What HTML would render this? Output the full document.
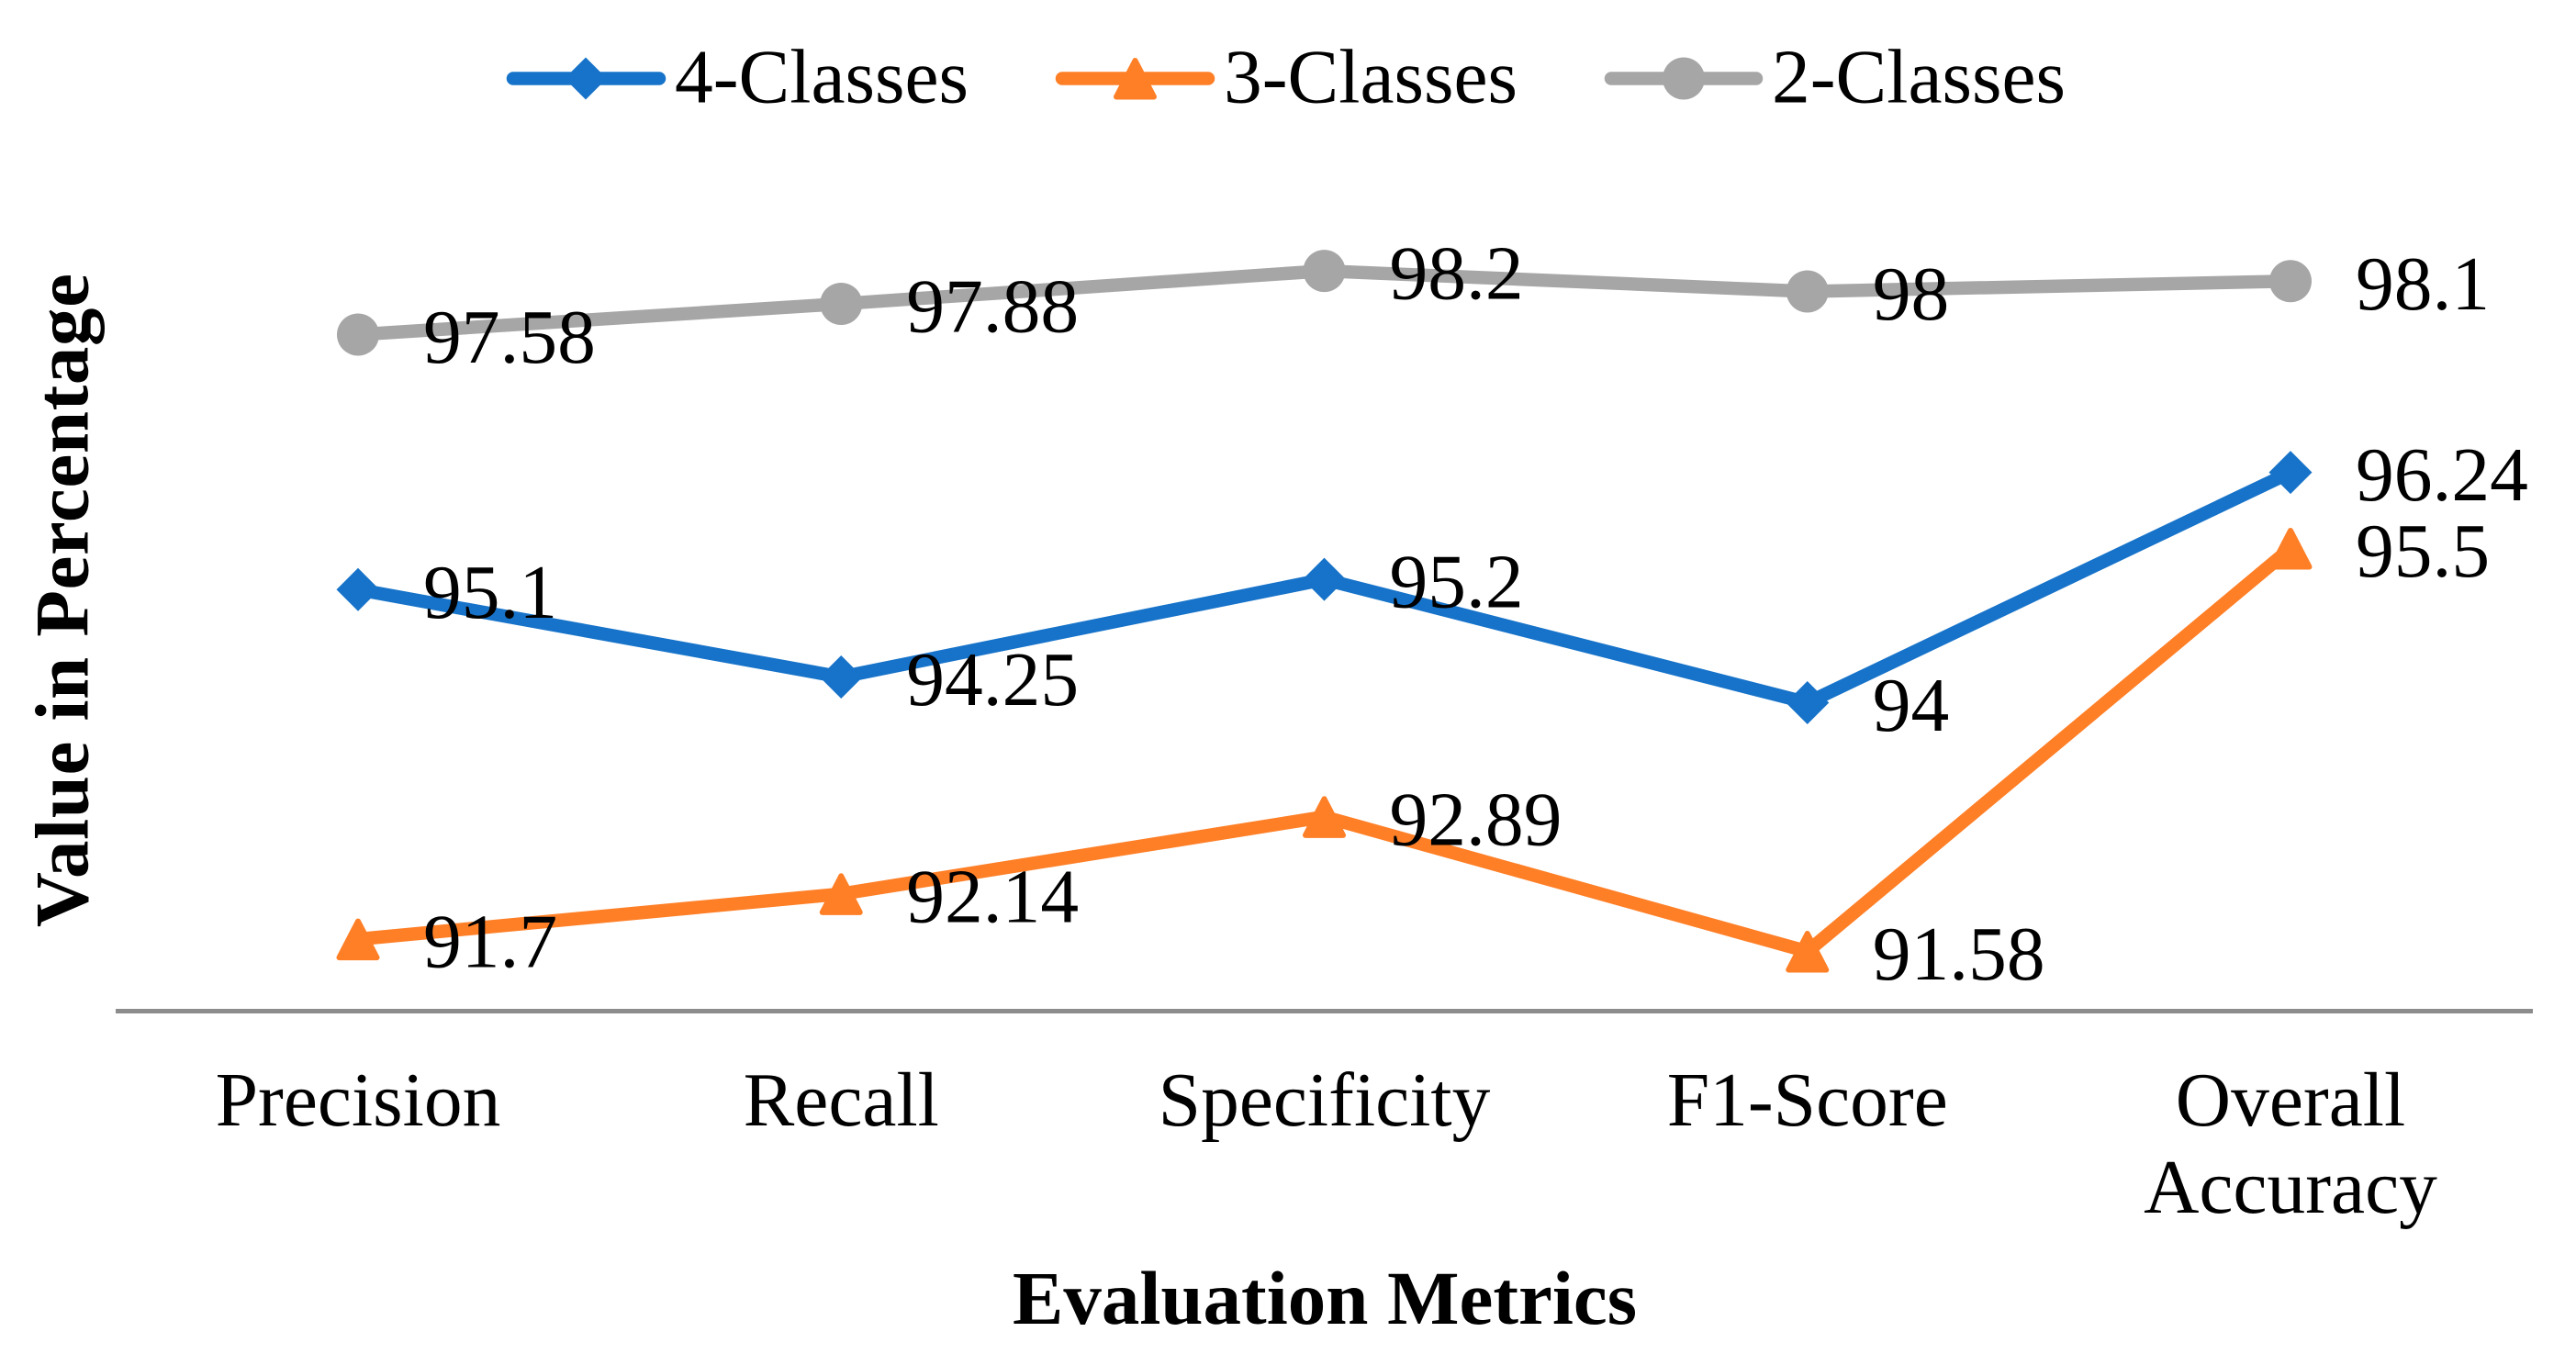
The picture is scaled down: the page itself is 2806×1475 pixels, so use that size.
<!DOCTYPE html>
<html>
<head>
<meta charset="utf-8">
<style>
html,body{margin:0;padding:0;background:#fff;}
body{width:2806px;height:1475px;overflow:hidden;}
svg{display:block;}
text{font-family:"Liberation Serif","Times New Roman",serif;fill:#000;}
</style>
</head>
<body>
<svg id="chart" xmlns="http://www.w3.org/2000/svg" width="2806" height="1475" viewBox="0 0 2806 1475">
  <rect x="0" y="0" width="2806" height="1475" fill="#ffffff"/>
  <g id="axis-layer">
    <line x1="126" y1="1101.5" x2="2759" y2="1101.5" stroke="#8c8c8c" stroke-width="5"/>
  </g>
  <g id="series-layer"></g>
  <g id="label-layer"></g>
  <g id="tick-layer"></g>
  <text x="1443" y="1442" font-size="83" font-weight="bold" text-anchor="middle">Evaluation Metrics</text>
  <text transform="translate(95.5 654) rotate(-90)" x="0" y="0" font-size="83" font-weight="bold" text-anchor="middle" textLength="712" lengthAdjust="spacing">Value in Percentage</text>
  <g id="legend-layer">
    <g>
      <line x1="559" y1="85.5" x2="718" y2="85.5" stroke="#1773c9" stroke-width="14.5" stroke-linecap="round"/>
      <path d="M638 62.5L661 85.5L638 108.5L615 85.5Z" fill="#1773c9"/>
      <text x="735" y="111.5" font-size="83.5">4-Classes</text>
    </g>
    <g>
      <line x1="1157" y1="85.5" x2="1316" y2="85.5" stroke="#ff7f27" stroke-width="14.5" stroke-linecap="round"/>
      <path d="M1236.5 66L1257 105.5L1216 105.5Z" fill="#ff7f27" stroke="#ff7f27" stroke-width="6" stroke-linejoin="round"/>
      <text x="1333" y="111.5" font-size="83.5">3-Classes</text>
    </g>
    <g>
      <line x1="1755" y1="85.5" x2="1913" y2="85.5" stroke="#a6a6a6" stroke-width="14.5" stroke-linecap="round"/>
      <circle cx="1834" cy="85.5" r="23" fill="#a6a6a6"/>
      <text x="1930" y="111.5" font-size="83.5">2-Classes</text>
    </g>
  </g>
</svg>
<script>
const categories = ["Precision", "Recall", "Specificity", "F1-Score", "Overall Accuracy"];
const fourClasses = [95.1, 94.25, 95.2, 94, 96.24];
const threeClasses = [91.7, 92.14, 92.89, 91.58, 95.5];
const twoClasses = [97.58, 97.88, 98.2, 98, 98.1];

const NS = "http://www.w3.org/2000/svg";
const FIRST_X = 390, STEP_X = 526.25;
const AXIS_MIN = 91, AXIS_Y = 1101.5, PX_PER_UNIT = 112;
function xScale(i) { return FIRST_X + i * STEP_X; }
function yScale(v) { return AXIS_Y - (v - AXIS_MIN) * PX_PER_UNIT; }

const seriesLayer = document.getElementById("series-layer");
const labelLayer = document.getElementById("label-layer");
const tickLayer = document.getElementById("tick-layer");

function makeMarker(shape, x, y, color) {
  let m;
  if (shape === "circle") {
    m = document.createElementNS(NS, "circle");
    m.setAttribute("cx", x);
    m.setAttribute("cy", y);
    m.setAttribute("r", 23);
    m.setAttribute("fill", color);
  } else if (shape === "diamond") {
    m = document.createElementNS(NS, "path");
    m.setAttribute("d", "M" + x + " " + (y - 23.5) + "L" + (x + 23.5) + " " + y + "L" + x + " " + (y + 23.5) + "L" + (x - 23.5) + " " + y + "Z");
    m.setAttribute("fill", color);
  } else {
    m = document.createElementNS(NS, "path");
    m.setAttribute("d", "M" + x + " " + (y - 19.5) + "L" + (x + 20.5) + " " + (y + 20) + "L" + (x - 20.5) + " " + (y + 20) + "Z");
    m.setAttribute("fill", color);
    m.setAttribute("stroke", color);
    m.setAttribute("stroke-width", 6);
    m.setAttribute("stroke-linejoin", "round");
  }
  return m;
}

function drawSeries(key, values, color, shape) {
  const g = document.createElementNS(NS, "g");
  
  
  const line = document.createElementNS(NS, "polyline");
  
  
  line.setAttribute("points", values.map(function (v, i) { return xScale(i) + "," + yScale(v); }).join(" "));
  line.setAttribute("fill", "none");
  line.setAttribute("stroke", color);
  line.setAttribute("stroke-width", 14.5);
  line.setAttribute("stroke-linejoin", "round");
  g.appendChild(line);
  values.forEach(function (v, i) {
    const marker = makeMarker(shape, xScale(i), yScale(v), color);
    
    
    g.appendChild(marker);
  });
  seriesLayer.appendChild(g);
  values.forEach(function (v, i) {
    const t = document.createElementNS(NS, "text");
    
    
    t.setAttribute("x", xScale(i) + 71);
    t.setAttribute("y", yScale(v) + 30.5);
    t.setAttribute("font-size", 83.5);
    t.textContent = String(v);
    labelLayer.appendChild(t);
  });
}

drawSeries("4-classes", fourClasses, "#1773c9", "diamond");
drawSeries("3-classes", threeClasses, "#ff7f27", "triangle");
drawSeries("2-classes", twoClasses, "#a6a6a6", "circle");

categories.forEach(function (name, i) {
  const t = document.createElementNS(NS, "text");
  
  
  t.setAttribute("x", xScale(i));
  t.setAttribute("y", 1226);
  t.setAttribute("font-size", 83.5);
  t.setAttribute("text-anchor", "middle");
  const words = name === "Overall Accuracy" ? name.split(" ") : [name];
  words.forEach(function (w, k) {
    const s = document.createElementNS(NS, "tspan");
    s.setAttribute("x", xScale(i));
    s.setAttribute("y", 1226 + k * 95);
    s.textContent = w;
    t.appendChild(s);
  });
  tickLayer.appendChild(t);
});
</script>
</body>
</html>
